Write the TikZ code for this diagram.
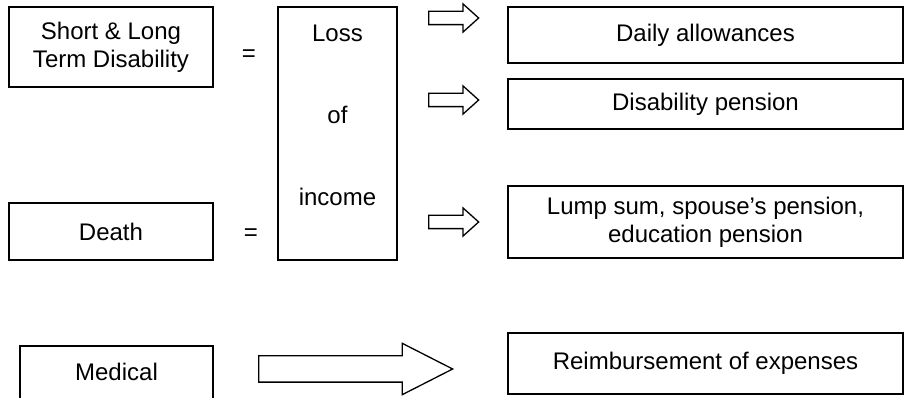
\documentclass[tikz,border=0pt]{standalone}
\usepackage{fontspec}
\setmainfont{Liberation Sans}
\usetikzlibrary{shapes.arrows}

\tikzset{
    box/.style={draw, line width=1.6pt, inner sep=0pt, align=center},
    label/.style={inner sep=0pt, align=center},
    smallarrow/.style={single arrow, draw, line width=1.3pt, inner xsep=0pt, inner ysep=6pt, anchor=tail,
        single arrow head extend=7.5pt, single arrow tip angle=84, minimum height=50pt},
    bigarrow/.style={single arrow, draw, line width=1.3pt, inner xsep=0pt, inner ysep=12.5pt, anchor=tail,
        single arrow head extend=12.5pt, single arrow tip angle=54, minimum height=194pt}
}

\begin{document}
\begin{tikzpicture}[x=1pt, y=-1pt, font=\fontsize{24}{28}\selectfont]
    \useasboundingbox (0,0) rectangle (906,398);

    % Causes on the left
    \node[box, minimum width=204pt, minimum height=80pt] (sld) at (111,47) {Short \& Long\\Term Disability};
    \node[box, minimum width=204pt, minimum height=57pt] (death) at (111,231.5) {Death};
    \node[box, minimum width=193pt, minimum height=56pt] (medical) at (116.5,374) {\raisebox{4pt}{Medical}};

    % Equal signs
    \node[label] (eq1) at (249,56) {=};
    \node[label] (eq2) at (251,235) {=};

    % Loss of income box
    \node[box, minimum width=119pt, minimum height=253pt] (loss) at (337.5,133.5) {};
    \node[label] (losstext) at (337.5,33) {Loss};
    \node[label] (oftext) at (337.5,115) {of};
    \node[label] (incometext) at (337.5,197) {income};

    % Arrows to the benefits (placed by their tails)
    \node[smallarrow] (arr1) at (428,18) {};
    \node[smallarrow] (arr2) at (428,100) {};
    \node[smallarrow] (arr3) at (428,222) {};
    \node[bigarrow] (arr4) at (258,369) {};

    % Benefits on the right
    \node[box, minimum width=395pt, minimum height=56pt] (daily) at (705.5,35) {Daily allowances};
    \node[box, minimum width=395pt, minimum height=50pt] (pension) at (705.5,104) {Disability pension};
    \node[box, minimum width=395pt, minimum height=72pt] (lump) at (705.5,222) {Lump sum, spouse’s pension,\\education pension};
    \node[box, minimum width=395pt, minimum height=61pt] (reimb) at (705.5,363.5) {\raisebox{3pt}{Reimbursement of expenses}};
\end{tikzpicture}
\end{document}
